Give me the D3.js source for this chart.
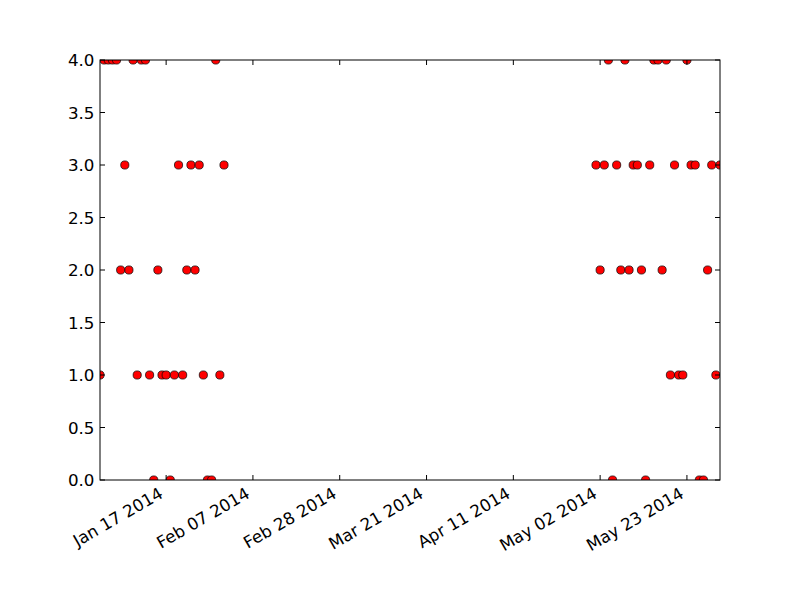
<!DOCTYPE html>
<html>
<head>
<meta charset="utf-8">
<script src="https://cdn.jsdelivr.net/npm/d3@7"></script>
<style>
  body { margin: 0; background: #fff; }
  text { font-family: "DejaVu Sans", sans-serif; }
</style>
</head>
<body>
<div id="chart"></div>
<script>
// daily readings, Jan 2014 then May 2014
const dates = [
  "2014-01-01","2014-01-02","2014-01-03","2014-01-04","2014-01-05","2014-01-06","2014-01-07","2014-01-08",
  "2014-01-09","2014-01-10","2014-01-11","2014-01-12","2014-01-13","2014-01-14","2014-01-15","2014-01-16",
  "2014-01-17","2014-01-18","2014-01-19","2014-01-20","2014-01-21","2014-01-22","2014-01-23","2014-01-24",
  "2014-01-25","2014-01-26","2014-01-27","2014-01-28","2014-01-29","2014-01-30","2014-01-31",
  "2014-05-01","2014-05-02","2014-05-03","2014-05-04","2014-05-05","2014-05-06","2014-05-07","2014-05-08",
  "2014-05-09","2014-05-10","2014-05-11","2014-05-12","2014-05-13","2014-05-14","2014-05-15","2014-05-16",
  "2014-05-17","2014-05-18","2014-05-19","2014-05-20","2014-05-21","2014-05-22","2014-05-23","2014-05-24",
  "2014-05-25","2014-05-26","2014-05-27","2014-05-28","2014-05-29","2014-05-30","2014-05-31"
];
const values = [
  1, 4, 4, 4, 4, 2, 3, 2, 4, 1, 4, 4, 1, 0, 2, 1,
  1, 0, 1, 3, 1, 2, 3, 2, 3, 1, 0, 0, 4, 1, 3,
  3, 2, 3, 4, 0, 3, 2, 4, 2, 3, 3, 2, 0, 3, 4, 4,
  2, 4, 1, 3, 1, 1, 4, 3, 3, 0, 0, 2, 3, 1, 3
];
const xDomain = ["2014-01-01", "2014-05-31"];
const xTicks = ["2014-01-17", "2014-02-07", "2014-02-28", "2014-03-21", "2014-04-11", "2014-05-02", "2014-05-23"];
const yTicks = [0, 0.5, 1, 1.5, 2, 2.5, 3, 3.5, 4];

const parse = d3.timeParse("%Y-%m-%d");
const data = dates.map((d, i) => ({ date: parse(d), value: values[i] }));

const width = 800, height = 600;
const margin = { top: 60, right: 80, bottom: 120, left: 100 };
const innerW = width - margin.left - margin.right;
const innerH = height - margin.top - margin.bottom;

const svg = d3.select("#chart").append("svg")
  .attr("width", width)
  .attr("height", height);

svg.append("rect").attr("width", width).attr("height", height).attr("fill", "#fff");

const g = svg.append("g").attr("transform", `translate(${margin.left},${margin.top})`);

const x = d3.scaleTime().domain(xDomain.map(parse)).range([0, innerW]);
const y = d3.scaleLinear().domain([0, 4]).range([innerH, 0]);

svg.append("defs").append("clipPath").attr("id", "clip")
  .append("rect").attr("width", innerW).attr("height", innerH);

// points
g.append("g").attr("clip-path", "url(#clip)")
  .selectAll("circle")
  .data(data)
  .enter()
  .append("circle")
    .attr("cx", d => x(d.date))
    .attr("cy", d => y(d.value))
    .attr("r", 4.1)
    .attr("fill", "#ff0000")
    .attr("stroke", "#000")
    .attr("stroke-width", 0.7);

const tickLen = 5;
const fmt = d3.timeFormat("%b %d %Y");

// bottom + top ticks (inward)
const xt = xTicks.map(parse);
g.selectAll(".xtick-b").data(xt).enter().append("line")
  .attr("x1", d => x(d)).attr("x2", d => x(d))
  .attr("y1", innerH).attr("y2", innerH - tickLen)
  .attr("stroke", "#000");
g.selectAll(".xtick-t").data(xt).enter().append("line")
  .attr("x1", d => x(d)).attr("x2", d => x(d))
  .attr("y1", 0).attr("y2", tickLen)
  .attr("stroke", "#000");

// left + right ticks (inward)
g.selectAll(".ytick-l").data(yTicks).enter().append("line")
  .attr("x1", 0).attr("x2", tickLen)
  .attr("y1", d => y(d)).attr("y2", d => y(d))
  .attr("stroke", "#000");
g.selectAll(".ytick-r").data(yTicks).enter().append("line")
  .attr("x1", innerW).attr("x2", innerW - tickLen)
  .attr("y1", d => y(d)).attr("y2", d => y(d))
  .attr("stroke", "#000");

// y labels
g.selectAll(".ylabel").data(yTicks).enter().append("text")
  .attr("x", -5.5)
  .attr("y", d => y(d))
  .attr("dy", "0.36em")
  .attr("text-anchor", "end")
  .style("font-size", "16.7px")
  .text(d => d3.format(".1f")(d));

// x labels, rotated like autofmt_xdate
g.selectAll(".xlabel").data(xt).enter().append("text")
  .attr("transform", d => `translate(${x(d) - 2},${innerH + 17}) rotate(-30)`)
  .attr("text-anchor", "end")
  .style("font-size", "16.7px")
  .text(d => fmt(d));

// frame
g.append("rect")
  .attr("width", innerW).attr("height", innerH)
  .attr("fill", "none").attr("stroke", "#000").attr("stroke-width", 1);
</script>
</body>
</html>
